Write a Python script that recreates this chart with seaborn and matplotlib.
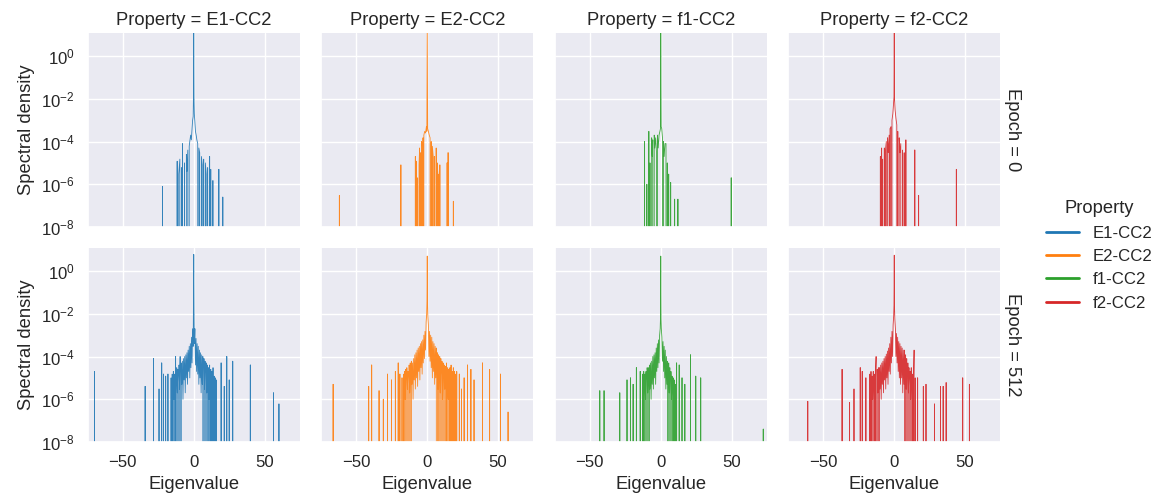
import numpy as np
import pandas as pd
import seaborn as sns
import matplotlib.pyplot as plt
from matplotlib.ticker import NullLocator

properties = ["E1-CC2", "E2-CC2", "f1-CC2", "f2-CC2"]
epochs = [0, 512]

# ---------------- Epoch 0 ----------------
e1_ep0_core_eig = [-12.2, -11.7, -11.5, -10.6, -9.8, -9.6, -8.6, -8.4, -7.9, -7.7,
                   -6.5, -6.1, -5.2, -4.8, -4.2, -3.8, -3.2, -2.8, -2.2, -1.7,
                   -1.2, -0.8, -0.4, -0.2, 0, 0.2, 0.4, 0.8, 1.2, 1.7,
                   2.2, 2.8, 3.2, 3.6, 4.2, 4.8, 5.4, 6.0, 6.5, 7.0,
                   7.6, 8.2, 8.8, 9.3, 9.8, 10.3, 11.2, 11.4, 12.0, 12.6,
                   13.5, 13.7]
e1_ep0_core_den = [0, 1.2e-5, 0, 3e-6, 1.5e-5, 0, 6e-6, 0, 8e-5, 0,
                   1e-5, 0, 2.5e-5, 4e-6, 4e-5, 0, 6e-5, 1e-4, 2e-4, 1.2e-4,
                   4e-4, 1e-3, 1.5e-3, 1.4e-2, 30, 1e-2, 2e-3, 8e-4, 3e-4, 2e-4,
                   1.2e-4, 8e-5, 0, 5e-5, 3e-5, 0, 2e-5, 8e-6, 0, 1.5e-5,
                   0, 1e-5, 3e-6, 0, 6e-6, 0, 2e-5, 0, 5e-6, 0,
                   1.5e-6, 0]
e1_ep0_spike_eig = [-22.0, 17.7, 20.5]
e1_ep0_spike_den = [8e-7, 5e-6, 2.5e-7]

e2_ep0_core_eig = [-9.2, -8.4, -8.2, -7.7, -7.4, -6.8, -6.4, -5.8, -5.4, -5.0,
                   -4.6, -4.2, -4.0, -3.5, -3.2, -3.0, -2.6, -2.4, -1.8, -1.2,
                   -0.6, -0.3, 0, 0.3, 0.8, 1.4, 2.0, 2.4, 2.8, 3.2,
                   3.6, 4.2, 4.6, 5.0, 5.4, 6.3, 6.5, 7.0, 7.5, 7.8,
                   8.3, 8.6]
e2_ep0_core_den = [0, 2e-5, 0, 1.2e-5, 0, 2e-6, 0, 8e-6, 5e-5, 0,
                   3e-5, 0, 1e-4, 6e-5, 0, 1.5e-4, 0, 2e-4, 3e-4, 2.5e-4,
                   5e-4, 3e-4, 30, 4e-4, 3e-4, 2e-4, 1.5e-4, 0, 1e-4, 0,
                   6e-5, 2e-5, 0, 2e-5, 0, 5e-5, 0, 1e-5, 3e-6, 0,
                   3e-6, 0]
e2_ep0_spike_eig = [-62.0, -18.6, 8.9, 14.0, 14.7, 18.4]
e2_ep0_spike_den = [3e-7, 8e-6, 8e-6, 1e-5, 3e-5, 1.6e-7]

f1_ep0_core_eig = [-11.6, -11.4, -11.2, -9.8, -9.6, -8.6, -8.4, -8.2, -7.6, -7.2,
                   -6.4, -6.0, -5.6, -5.2, -4.6, -4.2, -3.6, -3.0, -2.6, -2.3,
                   -1.8, -1.2, -0.6, -0.2, 0, 0.3, 0.7, 1.2, 1.6, 1.9,
                   2.4, 3.0, 3.7, 4.2, 4.6, 5.0, 5.6, 6.0]
f1_ep0_core_den = [0, 1e-4, 0, 1e-6, 0, 0, 3e-4, 0, 1e-5, 0,
                   1.5e-4, 2e-5, 1.2e-4, 0, 2e-4, 5e-5, 1.5e-4, 3e-5, 0, 2e-4,
                   5e-5, 2e-4, 3e-4, 4e-4, 30, 5e-4, 4e-4, 1.5e-4, 0, 1e-4,
                   2e-5, 8e-5, 8e-5, 0, 1e-5, 0, 3e-6, 0]
f1_ep0_spike_eig = [7.0, 9.8, 12.1, 49.7]
f1_ep0_spike_den = [1.2e-6, 2e-7, 2e-7, 2e-6]

f2_ep0_core_eig = [-10.2, -9.8, -9.6, -9.3, -9.1, -8.9, -8.6, -8.2, -7.8, -7.0,
                   -6.6, -6.2, -5.6, -5.2, -4.7, -4.2, -3.6, -3.3, -3.0, -2.3,
                   -1.9, -1.6, -1.0, -0.5, -0.2, 0, 0.2, 0.6, 1.2, 1.8,
                   2.1, 2.5, 3.0, 3.5, 4.0, 4.6, 5.2, 5.8, 6.4, 7.0,
                   7.4, 8.2, 8.4]
f2_ep0_core_den = [0, 2e-5, 0, 2e-5, 0, 5e-5, 0, 1.5e-5, 0, 5e-5,
                   0, 4e-5, 1e-4, 0, 1.5e-4, 3e-5, 2e-4, 0, 4e-4, 5e-4,
                   0, 1e-3, 2e-3, 6e-3, 1.2e-2, 30, 1e-2, 3e-3, 1.2e-3, 6e-4,
                   0, 3e-4, 0, 1.5e-4, 3e-5, 8e-5, 0, 4e-5, 0, 3e-5,
                   0, 1.2e-4, 0]
f2_ep0_spike_eig = [14.5, 17.2, 43.8]
f2_ep0_spike_den = [4e-5, 3e-7, 5e-6]

# ---------------- Epoch 512 ----------------
e1_ep512_core_eig = [-16.0, -15.6, -15.2, -14.8, -14.4, -14.0, -13.6, -13.2, -12.8, -12.4,
                     -12.0, -11.6, -11.2, -10.8, -10.4, -10.0, -9.6, -9.2, -8.8, -8.4,
                     -8.0, -7.6, -7.2, -6.8, -6.4, -6.0, -5.6, -5.2, -4.8, -4.4,
                     -4.0, -3.6, -3.2, -2.8, -2.4, -2.0, -1.6, -1.2, -0.8, -0.4,
                     -0.2, 0, 0.2, 0.4, 0.8, 1.2, 1.6, 2.0, 2.4, 2.8,
                     3.2, 3.6, 4.0, 4.4, 4.8, 5.2, 5.6, 6.0, 6.4, 6.8,
                     7.2, 7.6, 8.0, 8.4, 8.8, 9.2, 9.6, 10.0, 10.4, 10.8,
                     11.2, 11.6, 12.0, 12.4, 12.8, 13.2, 13.6, 14.0, 14.4, 14.8,
                     15.2, 15.6, 16.0, 16.4]
e1_ep512_core_den = [1e-5, 0, 1.5e-5, 0, 2e-5, 1e-6, 1.5e-5, 0, 1e-4, 0,
                     3e-5, 2e-6, 2.5e-5, 0, 4e-5, 3e-6, 1e-4, 0, 5e-5, 5e-6,
                     6e-5, 1e-6, 8e-5, 8e-6, 1e-4, 2e-6, 1.2e-4, 1e-5, 1.5e-4, 5e-6,
                     2e-4, 2e-5, 3e-4, 1e-5, 4e-4, 3e-5, 8e-4, 5e-5, 2e-3, 3e-4,
                     2e-2, 6, 1.5e-2, 4e-4, 2e-3, 4e-5, 7e-4, 2e-5, 4e-4, 1.5e-5,
                     3e-4, 5e-6, 2e-4, 1e-5, 1.5e-4, 2e-6, 1.2e-4, 5e-6, 1e-4, 0,
                     8e-5, 3e-6, 6e-5, 0, 5e-5, 2e-6, 4e-5, 0, 3e-5, 1e-6,
                     4e-5, 0, 2.5e-5, 0, 2e-5, 0, 3e-5, 0, 1.2e-5, 0,
                     1e-5, 0, 8e-6, 0]
e1_ep512_spike_eig = [-70.0, -34.3, -28.4, -24.5, -22.6, -21.4, -19.8, -18.2,
                      19.3, 21.5, 23.3, 25.0, 27.5, 39.9, 56.2, 60.1]
e1_ep512_spike_den = [2e-5, 4e-6, 8e-5, 3e-6, 5e-5, 1.5e-5, 1.2e-5, 1.5e-5,
                      5e-5, 4e-6, 1e-4, 8e-6, 6e-5, 4e-5, 2e-6, 6e-7]

e2_ep512_core_eig = [-16.8, -16.4, -16.0, -15.6, -15.2, -14.8, -14.4, -14.0, -13.6, -13.2,
                     -12.8, -12.4, -12.0, -11.6, -11.2, -10.8, -10.4, -10.0, -9.6, -9.2,
                     -8.8, -8.4, -8.0, -7.6, -7.2, -6.8, -6.4, -6.0, -5.6, -5.2,
                     -4.8, -4.4, -4.0, -3.6, -3.2, -2.8, -2.4, -2.0, -1.6, -1.2,
                     -0.8, -0.4, -0.2, 0, 0.2, 0.4, 0.8, 1.2, 1.6, 2.0,
                     2.4, 2.8, 3.2, 3.6, 4.0, 4.4, 4.8, 5.2, 5.6, 6.0,
                     6.4, 6.8, 7.2, 7.6, 8.0, 8.4, 8.8, 9.2, 9.6, 10.0,
                     10.4, 10.8, 11.2, 11.6, 12.0, 12.4, 12.8, 13.2, 13.6, 14.0,
                     14.4, 14.8, 15.2, 15.6, 16.0, 16.4, 16.8, 17.2, 17.6, 18.0,
                     18.4, 18.8, 19.2, 19.6, 20.0, 20.4, 20.8, 21.2]
e2_ep512_core_den = [1.5e-5, 0, 2e-5, 1e-6, 2.5e-5, 0, 3e-5, 3e-6, 2e-5, 0,
                     4e-5, 2e-6, 5e-5, 0, 6e-5, 5e-6, 5e-5, 1e-6, 8e-5, 8e-6,
                     1.2e-4, 3e-6, 1.5e-4, 1e-5, 2e-4, 4e-6, 2.5e-4, 2e-5, 3e-4, 8e-6,
                     4e-4, 3e-5, 5e-4, 1.5e-5, 6e-4, 5e-5, 1e-3, 8e-5, 1.5e-3, 2e-4,
                     4e-3, 1e-2, 4e-2, 5, 3e-2, 8e-3, 3e-3, 1e-4, 1.5e-3, 6e-5,
                     1e-3, 3e-5, 8e-4, 1e-5, 5e-4, 2e-5, 4e-4, 5e-6, 3e-4, 1e-5,
                     2.5e-4, 0, 1.5e-4, 3e-6, 1.2e-4, 0, 1e-4, 2e-6, 8e-5, 0,
                     6e-5, 1e-6, 5e-5, 0, 4e-5, 3e-6, 3.5e-5, 0, 5e-5, 0,
                     3e-5, 1e-6, 2.5e-5, 0, 3e-5, 0, 4e-5, 0, 2e-5, 0,
                     3e-5, 0, 2e-5, 0, 1.5e-5, 0, 2e-5, 0]
e2_ep512_spike_eig = [-66.4, -41.3, -39.2, -34.0, -31.0, -28.0, -25.2, -22.5, -20.5, -19.3, -17.8,
                      22.6, 24.2, 26.0, 28.4, 30.8, 33.0, 39.0, 44.0, 51.7, 57.0]
e2_ep512_spike_den = [5e-6, 4e-6, 4e-5, 2.5e-6, 1e-6, 1.5e-5, 8e-6, 2e-5, 5e-5, 1.5e-5, 1e-5,
                      1.5e-5, 3e-6, 1e-5, 4e-5, 2.5e-5, 8e-6, 5e-5, 2.5e-5, 1.5e-5, 2.5e-7]

f1_ep512_core_eig = [-12.8, -12.4, -12.0, -11.6, -11.2, -10.8, -10.4, -10.0, -9.6, -9.2,
                     -8.8, -8.4, -8.0, -7.6, -7.2, -6.8, -6.4, -6.0, -5.6, -5.2,
                     -4.8, -4.4, -4.0, -3.6, -3.2, -2.8, -2.4, -2.0, -1.6, -1.2,
                     -0.8, -0.4, -0.2, 0, 0.2, 0.4, 0.8, 1.2, 1.6, 2.0,
                     2.4, 2.8, 3.2, 3.6, 4.0, 4.4, 4.8, 5.2, 5.6, 6.0,
                     6.4, 6.8, 7.2, 7.6, 8.0, 8.4, 8.8, 9.2, 9.6, 10.0,
                     10.4, 10.8]
f1_ep512_core_den = [1.5e-5, 0, 2e-5, 0, 1.5e-5, 1e-6, 2e-5, 0, 3e-5, 2e-6,
                     3e-5, 0, 4e-5, 3e-6, 5e-5, 1e-6, 6e-5, 5e-6, 1e-4, 3e-6,
                     1.2e-4, 1e-5, 1.5e-4, 5e-6, 2.5e-4, 2e-5, 4e-4, 3e-5, 6e-4, 5e-5,
                     1e-3, 2e-3, 6e-3, 5, 6e-3, 2e-3, 8e-4, 6e-5, 5e-4, 2e-5,
                     3e-4, 1e-5, 2e-4, 3e-6, 1e-4, 5e-6, 6e-5, 0, 5e-5, 2e-6,
                     3e-5, 0, 2e-5, 1e-6, 1.2e-5, 0, 1e-5, 0, 8e-6, 0,
                     5e-6, 0]
f1_ep512_spike_eig = [-43.0, -40.0, -28.9, -23.8, -21.4, -19.5, -17.2, -14.5,
                      11.2, 13.0, 15.0, 17.0, 21.0, 24.7, 28.2, 72.3]
f1_ep512_spike_den = [2.5e-6, 2.5e-6, 2e-6, 8e-6, 1e-5, 5e-6, 3e-5, 2e-5,
                      5e-5, 4e-5, 1e-5, 5e-6, 1.2e-4, 1.2e-5, 1e-5, 4e-8]

f2_ep512_core_eig = [-17.2, -16.8, -16.4, -16.0, -15.6, -15.2, -14.8, -14.4, -14.0, -13.6,
                     -13.2, -12.8, -12.4, -12.0, -11.6, -11.2, -10.8, -10.4, -10.0, -9.6,
                     -9.2, -8.8, -8.4, -8.0, -7.6, -7.2, -6.8, -6.4, -6.0, -5.6,
                     -5.2, -4.8, -4.4, -4.0, -3.6, -3.2, -2.8, -2.4, -2.0, -1.6,
                     -1.2, -0.8, -0.4, -0.2, 0, 0.2, 0.4, 0.8, 1.2, 1.6,
                     2.0, 2.4, 2.8, 3.2, 3.6, 4.0, 4.4, 4.8, 5.2, 5.6,
                     6.0, 6.4, 6.8, 7.2, 7.6, 8.0, 8.4, 8.8, 9.2, 9.6,
                     10.0, 10.4, 10.8, 11.2, 11.6, 12.0, 12.4, 12.8, 13.2, 13.6,
                     14.0, 14.4, 14.8, 15.2]
f2_ep512_core_den = [1.5e-5, 0, 2e-5, 0, 1.2e-5, 1e-6, 2e-5, 0, 1.5e-5, 0,
                     2e-5, 1e-4, 0, 2.5e-5, 2e-6, 3e-5, 0, 3e-5, 3e-6, 4e-5,
                     1e-6, 5e-5, 5e-6, 6e-5, 2e-6, 8e-5, 8e-6, 1e-4, 3e-6, 1.3e-4,
                     1e-5, 1.8e-4, 5e-6, 2.5e-4, 2e-5, 4e-4, 1.5e-5, 8e-4, 5e-5, 1.5e-3,
                     1e-4, 3e-3, 8e-3, 2.5e-2, 5.5, 2e-2, 6e-3, 2e-3, 1e-4, 1.2e-3,
                     5e-5, 8e-4, 2e-5, 5e-4, 1e-5, 4e-4, 5e-6, 3e-4, 1e-5, 2.5e-4,
                     2e-6, 2e-4, 5e-6, 2e-4, 0, 1.2e-4, 3e-6, 8e-5, 0, 5e-5,
                     2e-6, 3e-5, 0, 2e-5, 1e-6, 3e-5, 0, 1.5e-5, 0, 1e-5,
                     2e-4, 0, 1e-5, 0]
f2_ep512_spike_eig = [-61.0, -36.8, -31.5, -28.4, -24.0, -22.6, -20.0,
                      16.5, 20.5, 22.4, 28.4, 32.6, 34.5, 36.6, 48.3, 53.0]
f2_ep512_spike_den = [8e-7, 2.5e-5, 7e-7, 3e-6, 3e-5, 2e-5, 1e-5,
                      1e-5, 4e-6, 5e-6, 6e-7, 4e-6, 4e-6, 6e-6, 1e-5, 5e-6]

panels = {
    ("E1-CC2", 0): (e1_ep0_core_eig, e1_ep0_core_den, e1_ep0_spike_eig, e1_ep0_spike_den),
    ("E2-CC2", 0): (e2_ep0_core_eig, e2_ep0_core_den, e2_ep0_spike_eig, e2_ep0_spike_den),
    ("f1-CC2", 0): (f1_ep0_core_eig, f1_ep0_core_den, f1_ep0_spike_eig, f1_ep0_spike_den),
    ("f2-CC2", 0): (f2_ep0_core_eig, f2_ep0_core_den, f2_ep0_spike_eig, f2_ep0_spike_den),
    ("E1-CC2", 512): (e1_ep512_core_eig, e1_ep512_core_den, e1_ep512_spike_eig, e1_ep512_spike_den),
    ("E2-CC2", 512): (e2_ep512_core_eig, e2_ep512_core_den, e2_ep512_spike_eig, e2_ep512_spike_den),
    ("f1-CC2", 512): (f1_ep512_core_eig, f1_ep512_core_den, f1_ep512_spike_eig, f1_ep512_spike_den),
    ("f2-CC2", 512): (f2_ep512_core_eig, f2_ep512_core_den, f2_ep512_spike_eig, f2_ep512_spike_den),
}

rows = []
for (prop, ep), (cx, cd, sx, sd) in panels.items():
    assert len(cx) == len(cd) and len(sx) == len(sd), (prop, ep)
    pieces = [(cx[0], list(zip(cx, cd)))]
    for s, h in zip(sx, sd):
        pieces.append((s, [(s, 0.0), (s, h), (s, 0.0)]))
    pieces.sort(key=lambda p: p[0])
    for _, seg in pieces:
        for x, d in seg:
            rows.append({"Property": prop, "Epoch": ep, "Eigenvalue": x, "Spectral density": d})
df = pd.DataFrame(rows)

sns.set_theme(style="darkgrid", font_scale=1.1)
plt.rcParams["font.family"] = ["Liberation Sans", "DejaVu Sans"]
plt.rcParams["mathtext.fontset"] = "custom"
plt.rcParams["mathtext.rm"] = "Liberation Sans"
plt.rcParams["mathtext.it"] = "Liberation Sans:italic"
plt.rcParams["mathtext.bf"] = "Liberation Sans:bold"

g = sns.relplot(
    data=df, x="Eigenvalue", y="Spectral density",
    hue="Property", hue_order=properties, palette="tab10",
    col="Property", col_order=properties, row="Epoch", row_order=epochs,
    kind="line", estimator=None, sort=False,
    linewidth=0.6, alpha=0.9, height=2.5, aspect=1.0,
    facet_kws=dict(margin_titles=True),
)
g.set(yscale="log")
for ax in g.axes.flat:
    ax.set_ylim(1e-8, 12)
    ax.set_xlim(-74.6, 74.6)
    ax.set_yticks([1e-8, 1e-6, 1e-4, 1e-2, 1e0])
    ax.yaxis.set_minor_locator(NullLocator())
    ax.set_xticks([-50, 0, 50])

for line in g.legend.get_lines():
    line.set_linewidth(2.0)
    line.set_alpha(1.0)

g.figure.set_size_inches(11.55, 4.97)
g.figure.subplots_adjust(left=88 / 1155, right=1000 / 1155,
                         bottom=1 - 442 / 497, top=1 - 33 / 497,
                         wspace=0.104, hspace=0.108)
g.legend.set_bbox_to_anchor((1.011, 0.486), transform=g.figure.transFigure)
g.figure.savefig("out.png", dpi=100)
